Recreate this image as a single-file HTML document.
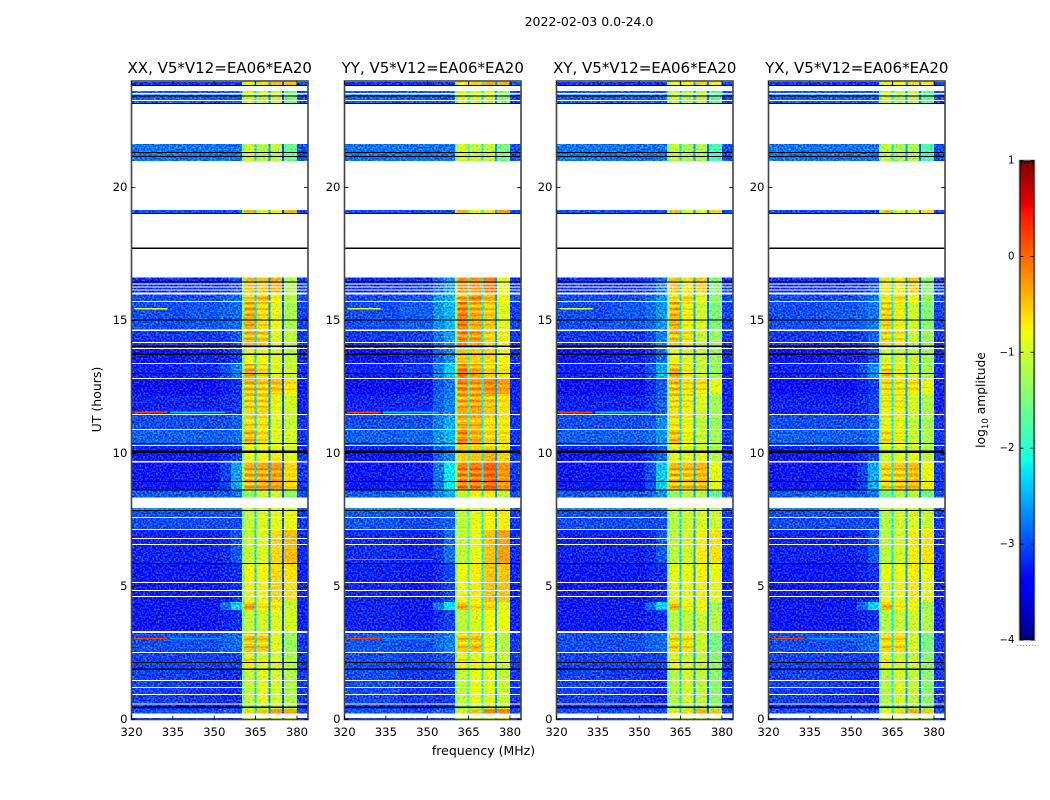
<!DOCTYPE html>
<html lang="en">
<head>
<meta charset="utf-8">
<title>2022-02-03 amplitude waterfall</title>
<style>
html,body{margin:0;padding:0;background:#fff;}
svg{display:block;}
text{font-family:"DejaVu Sans","Liberation Sans",sans-serif;fill:#000;}
</style>
</head>
<body>
<svg id="chart" xmlns="http://www.w3.org/2000/svg" width="1050" height="800" viewBox="0 0 1050 800">
  <defs>
    <filter id="speckle" filterUnits="userSpaceOnUse" x="0" y="0" width="1050" height="800" color-interpolation-filters="sRGB">
      <feTurbulence type="fractalNoise" baseFrequency="0.55" numOctaves="1" seed="7" result="n"/>
      <feColorMatrix in="n" type="matrix" values="1 0 0 0 0  1 0 0 0 0  1 0 0 0 0  0 0 0 0 1" result="g"/>
      <feComposite in="SourceGraphic" in2="g" operator="arithmetic" k1="0" k2="1" k3="1.1" k4="-0.55" result="m"/>
      <feComposite in="m" in2="SourceAlpha" operator="in"/>
    </filter>
    <filter id="speckle-soft" filterUnits="userSpaceOnUse" x="0" y="0" width="1050" height="800" color-interpolation-filters="sRGB">
      <feTurbulence type="fractalNoise" baseFrequency="0.55" numOctaves="1" seed="11" result="n"/>
      <feColorMatrix in="n" type="matrix" values="1 0 0 0 0  1 0 0 0 0  1 0 0 0 0  0 0 0 0 1" result="g"/>
      <feComposite in="SourceGraphic" in2="g" operator="arithmetic" k1="0" k2="1" k3="0.5" k4="-0.25" result="m"/>
      <feComposite in="m" in2="SourceAlpha" operator="in"/>
    </filter>
  </defs>
  <text x="589" y="26" font-size="12.5" text-anchor="middle">2022-02-03 0.0-24.0</text>
  <text x="483.5" y="755" font-size="12.5" text-anchor="middle">frequency (MHz)</text>
  <text x="0" y="0" font-size="12.5" text-anchor="middle" transform="translate(101,399.5) rotate(-90)">UT (hours)</text>
  <text x="0" y="0" font-size="12.3" text-anchor="middle" transform="translate(985,400) rotate(-90)">log<tspan font-size="8.6" dy="3">10</tspan><tspan dy="-3"> amplitude</tspan></text>
</svg>
<script>
// ---------- chart data ----------
const polarizations = ["XX", "YY", "XY", "YX"];
const baselineLabel = "V5*V12=EA06*EA20";
const xTicks = [320, 335, 350, 365, 380];
const yTicks = [0, 5, 10, 15, 20];
const colorTicks = [1, 0, -1, -2, -3, -4];

// frequency column edges (MHz)
const columnStartMHz = [320, 340, 352, 356, 360, 361, 365.35, 370.35, 375.35, 380];
const columnEndMHz = [340, 352, 356, 360, 361, 364.65, 369.65, 374.65, 380, 384];
const slitStartMHz = [364.65, 369.65, 374.65];
const slitEndMHz = [365.35, 370.35, 375.35];

// time rows (UT hours)
const rowStartUT = [0, 0.23, 0.4, 0.62, 1.9, 2.5, 3.29, 4.12, 4.42, 5.88, 7.12, 7.88, 8.35, 8.63, 9.68, 10.02, 10.32, 10.88, 11.49, 12.2, 12.84, 13.36, 13.93, 14.65, 15.7, 15.98, 19.02, 21.0, 23.16, 23.83];
const rowEndUT = [0.06, 0.4, 0.62, 1.9, 2.5, 3.29, 4.12, 4.42, 5.88, 7.12, 7.88, 7.95, 8.63, 9.68, 10.02, 10.32, 10.88, 11.49, 12.2, 12.84, 13.36, 13.93, 14.65, 15.7, 15.98, 16.62, 19.15, 21.64, 23.63, 23.97];

// log10 amplitude of each row (XX) in each frequency column
const rowLevels = [
  [-3.1, -3.1, -3.1, -3.1, -1.5, -0.9, -0.9, -0.9, -1.0, -3.1],
  [-3.0, -3.0, -3.0, -3.0, -1.4, -0.6, -0.5, -0.25, -0.3, -3.0],
  [-3.15, -3.15, -3.15, -3.15, -1.6, -1.25, -1.15, -1.05, -1.2, -3.1],
  [-3.05, -3.1, -3.15, -3.15, -1.6, -1.03, -0.88, -0.98, -1.2, -3.1],
  [-3.05, -3.05, -3.05, -3.05, -1.5, -0.7, -0.88, -0.93, -1.2, -3.1],
  [-3.0, -3.0, -2.9, -2.85, -1.4, -0.5, -0.55, -0.88, -1.3, -3.1],
  [-3.25, -3.25, -3.2, -3.15, -1.6, -1.03, -0.98, -0.9, -0.95, -3.2],
  [-3.25, -3.25, -2.85, -2.35, -1.4, -0.35, -0.7, -0.7, -1.1, -3.2],
  [-3.25, -3.25, -3.2, -3.15, -1.5, -0.75, -0.75, -0.6, -0.65, -3.2],
  [-3.2, -3.2, -3.15, -2.95, -1.5, -1.0, -0.9, -0.6, -0.45, -3.15],
  [-3.0, -3.0, -3.0, -3.0, -1.6, -1.03, -0.93, -0.85, -0.85, -3.1],
  [-2.7, -2.7, -2.7, -2.7, -1.3, -0.85, -0.9, -0.9, -0.9, -2.9],
  [-2.95, -2.95, -2.95, -2.85, -1.7, -1.3, -1.0, -1.0, -1.4, -3.0],
  [-3.25, -3.25, -3.05, -2.6, -1.4, -0.4, -0.35, -0.3, -0.6, -3.1],
  [-3.25, -3.25, -3.15, -3.05, -1.5, -0.8, -0.75, -0.7, -0.9, -3.1],
  [-3.2, -3.2, -3.15, -3.15, -1.6, -0.8, -0.8, -0.85, -1.0, -3.15],
  [-2.9, -2.9, -2.9, -2.85, -1.5, -0.45, -0.65, -0.9, -1.0, -3.1],
  [-3.0, -3.0, -3.0, -2.9, -1.5, -0.65, -0.7, -0.95, -1.05, -3.1],
  [-3.2, -3.2, -3.15, -3.1, -1.5, -0.6, -0.6, -0.8, -1.0, -3.2],
  [-3.3, -3.3, -3.2, -3.15, -1.5, -0.45, -0.55, -0.5, -0.65, -3.2],
  [-3.2, -3.15, -3.0, -2.75, -1.5, -0.4, -0.65, -0.9, -1.05, -3.15],
  [-3.25, -3.2, -3.15, -3.05, -1.6, -0.75, -0.8, -0.9, -1.1, -3.15],
  [-3.1, -3.1, -3.05, -2.95, -1.5, -0.45, -0.55, -0.9, -1.1, -3.1],
  [-3.0, -2.95, -2.9, -2.85, -1.5, -0.4, -0.65, -0.85, -1.25, -3.05],
  [-3.0, -3.0, -2.9, -2.85, -1.5, -0.65, -0.5, -0.75, -1.15, -3.0],
  [-3.15, -3.15, -3.1, -3.0, -1.4, -0.45, -0.5, -0.4, -1.2, -3.1],
  [-3.0, -3.0, -3.0, -3.0, -1.3, -0.4, -0.8, -0.75, -0.4, -3.05],
  [-2.8, -2.8, -2.8, -2.8, -1.5, -1.0, -1.15, -1.1, -1.6, -3.0],
  [-2.9, -2.9, -2.9, -2.9, -1.5, -0.95, -1.1, -1.0, -1.5, -3.0],
  [-3.1, -3.1, -3.1, -3.1, -1.4, -0.8, -0.65, -0.45, -0.5, -3.0]
];

// per-polarization level shift in each column, per time era
const offsetBefore8h = [
  [0, 0, 0, 0, 0, 0, 0, 0, 0, 0],
  [0.05, 0, 0.05, 0.1, 0.1, -0.05, 0.05, 0.1, 0.15, 0],
  [0, 0, 0, 0, 0, -0.1, -0.1, -0.12, -0.2, 0],
  [0, 0, 0, 0, 0, -0.1, -0.08, -0.1, -0.2, 0]
];
const offset8hTo17h = [
  [0, 0, 0, 0, 0, 0, 0, 0, 0, 0],
  [0, 0.03, 0.25, 0.35, 0.2, 0.25, 0.25, 0.3, 0.35, 0],
  [0, 0, 0.05, 0.2, 0.1, -0.05, -0.15, -0.15, -0.25, 0],
  [0, 0, 0, 0.05, 0, -0.2, -0.18, -0.15, -0.2, 0]
];
const offsetAfter17h = [
  [0, 0, 0, 0, 0, 0, 0, 0, 0, 0],
  [0, 0, 0, 0, 0, 0.05, 0.08, 0.05, 0.1, 0],
  [0, 0, 0, 0, 0, -0.05, -0.1, -0.1, -0.2, 0],
  [0, 0, 0, 0, 0, -0.05, -0.1, -0.1, -0.2, 0]
];
// level of the narrow subband-edge slits (365, 370, 375 MHz) per polarization
const slitLevels = [
  [-2.3, -2.6, -2.95],
  [-1.95, -2.2, -2.6],
  [-2.3, -2.55, -2.85],
  [-2.2, -2.55, -2.8]
];

// fine horizontal stripes across the hot band 360-380 MHz
const stripeUT = [2.2, 2.35, 2.69, 2.84, 2.99, 3.14, 4.19, 4.34, 8.7, 8.82, 8.93, 9.04, 9.15, 9.27, 9.38, 10.47, 10.62, 10.73, 11.03, 11.18, 11.33, 11.71, 11.82, 11.94, 12.05, 12.16, 12.27, 12.39, 12.5, 12.61, 12.91, 13.1, 13.21, 13.33, 14.27, 14.38, 14.49, 14.79, 15.17, 15.29, 15.4, 15.51, 15.62, 15.81, 15.92];
const stripeDelta = [0.25, -0.25, 0.25, -0.25, 0.25, -0.25, 0.2, -0.2, 0.3, -0.3, 0.3, -0.3, 0.3, -0.3, 0.3, 0.25, -0.25, 0.25, 0.25, -0.25, 0.25, 0.25, -0.25, 0.3, -0.3, 0.3, -0.3, 0.3, -0.3, 0.3, 0.25, 0.25, -0.25, 0.25, 0.25, -0.25, 0.25, 0.25, 0.25, -0.25, 0.3, -0.3, 0.3, 0.25, -0.25];
const stripeColumnWeight = [1, 0.8, 0.55, 0.35];

// narrow interference lines
const rfiUT = [3.03, 3.03, 11.53, 11.53, 15.42, 6.0, 0.3];
const rfiStartMHz = [321, 334, 321, 334, 321, 321, 353.5];
const rfiEndMHz = [333, 352, 333, 354, 333, 352, 354.5];
const rfiLevel = [0.2, -2.6, 0.2, -2.4, -1.0, 0.0, -1.0];
const rfiPolarizations = [[0, 1, 3], [0, 1, 3], [0, 1, 2], [0, 1, 2], [0, 1, 2], [1], [0, 1, 2, 3]];

// flagged rows
const whiteStartUT = [0.056, 0.564, 0.92, 1.18, 1.45, 2.5, 3.26, 4.6, 4.83, 5.13, 6.56, 6.79, 7.12, 7.58, 9.66, 10.28, 10.88, 11.45, 12.8, 13.36, 13.93, 14.15, 14.61, 15.7, 15.98, 16.13, 16.23, 16.35, 23.25, 23.49];
const whiteEndUT = [0.233, 0.609, 0.96, 1.22, 1.49, 2.54, 3.33, 4.64, 4.87, 5.17, 6.6, 6.83, 7.16, 7.62, 9.72, 10.32, 10.92, 11.49, 12.84, 13.4, 13.97, 14.19, 14.65, 15.73, 16.05, 16.17, 16.27, 16.38, 23.29, 23.54];
const blackUT = [0.46, 1.89, 2.15, 5.87, 7.86, 8.62, 8.94, 10.06, 10.38, 13.0, 13.73, 14.03, 15.01, 16.45, 17.72, 19.02, 21.17, 21.32, 23.16, 23.44, 23.83];
const blackThickUT = [0.04, 0.04, 0.04, 0.04, 0.04, 0.04, 0.04, 0.09, 0.04, 0.04, 0.04, 0.04, 0.04, 0.04, 0.06, 0.04, 0.04, 0.04, 0.04, 0.04, 0.04];

// ---------- axis functions ----------
const panelLeft = [131.5, 344.5, 556.5, 768.5];
const panelWidth = 176.5;
const plotTop = 81;
const plotBottom = 719.5;
const xDomain = [320, 384];
const yDomain = [0, 24];
const cbarDomain = [-4, 1];
const cbarLeft = 1019.5, cbarRight = 1034.5, cbarTop = 160.5, cbarBottom = 640;

function xScale(p, f) { return panelLeft[p] + (f - xDomain[0]) / (xDomain[1] - xDomain[0]) * panelWidth; }
function yScale(t) { return plotBottom - (t - yDomain[0]) / (yDomain[1] - yDomain[0]) * (plotBottom - plotTop); }
function cbarScale(v) { return cbarBottom - (v - cbarDomain[0]) / (cbarDomain[1] - cbarDomain[0]) * (cbarBottom - cbarTop); }

function ramp(t, pts) {
  for (let i = 1; i < pts.length; i++) {
    if (t <= pts[i][0]) {
      const a = pts[i - 1], b = pts[i];
      return a[1] + (b[1] - a[1]) * (t - a[0]) / (b[0] - a[0]);
    }
  }
  return pts[pts.length - 1][1];
}
function jet(v) {
  const t = Math.max(0, Math.min(1, (v - cbarDomain[0]) / (cbarDomain[1] - cbarDomain[0])));
  const r = ramp(t, [[0, 0], [0.35, 0], [0.66, 1], [0.89, 1], [1, 0.5]]);
  const g = ramp(t, [[0, 0], [0.125, 0], [0.375, 1], [0.64, 1], [0.91, 0], [1, 0]]);
  const b = ramp(t, [[0, 0.5], [0.11, 1], [0.34, 1], [0.65, 0], [1, 0]]);
  return "rgb(" + Math.round(r * 255) + "," + Math.round(g * 255) + "," + Math.round(b * 255) + ")";
}

const NS = "http://www.w3.org/2000/svg";
const chart = document.getElementById("chart");
function svgEl(tag, attrs, parent) {
  const el = document.createElementNS(NS, tag);
  for (const k in attrs) el.setAttribute(k, attrs[k]);
  (parent || chart).appendChild(el);
  return el;
}
function offsetFor(p, c, t) {
  const table = t < 8 ? offsetBefore8h : (t < 17 ? offset8hTo17h : offsetAfter17h);
  return table[p][c];
}

// ---------- panels ----------
polarizations.forEach(function (pol, p) {
  const panel = svgEl("g", {});
  
  

  // quiet-band cells carry a strong speckle texture; the bright 360-380 MHz band a soft one
  const coldCells = svgEl("g", { filter: "url(#speckle)", "shape-rendering": "crispEdges" }, panel);
  
  
  const hotCells = svgEl("g", { filter: "url(#speckle-soft)", "shape-rendering": "crispEdges" }, panel);
  
  

  rowLevels.forEach(function (levels, r) {
    const yTop = yScale(rowEndUT[r]);
    const h = yScale(rowStartUT[r]) - yTop;
    levels.forEach(function (lv, c) {
      const x0 = xScale(p, columnStartMHz[c]);
      const cell = svgEl("rect", {
        x: x0, y: yTop,
        width: xScale(p, columnEndMHz[c]) - x0, height: h,
        fill: jet(lv + offsetFor(p, c, rowStartUT[r]))
      }, (c < 4 || c === 9) ? coldCells : hotCells);
      
      
    });
    slitStartMHz.forEach(function (s, k) {
      const x0 = xScale(p, s);
      const slit = svgEl("rect", {
        x: x0, y: yTop,
        width: xScale(p, slitEndMHz[k]) - x0, height: h,
        fill: jet(slitLevels[p][k])
      }, hotCells);
      
      
    });
  });

  // hot-band stripes
  stripeUT.forEach(function (t, i) {
    const r = rowStartUT.findIndex(function (s, j) { return t >= s && t < rowEndUT[j]; });
    if (r < 0) return;
    for (let c = 5; c <= 8; c++) {
      const x0 = xScale(p, columnStartMHz[c]);
      const stripe = svgEl("rect", {
        x: x0, y: yScale(t + 0.07),
        width: xScale(p, columnEndMHz[c]) - x0, height: yScale(t) - yScale(t + 0.07),
        fill: jet(rowLevels[r][c] + offsetFor(p, c, t) + stripeDelta[i] * stripeColumnWeight[c - 5])
      }, hotCells);
      
      
    }
  });

  // interference lines
  rfiUT.forEach(function (t, i) {
    if (rfiPolarizations[i].indexOf(p) < 0) return;
    const x0 = xScale(p, rfiStartMHz[i]);
    const rfi = svgEl("rect", {
      x: x0, y: yScale(t + 0.04),
      width: xScale(p, rfiEndMHz[i]) - x0, height: yScale(t) - yScale(t + 0.04),
      fill: jet(rfiLevel[i]), "shape-rendering": "crispEdges"
    }, panel);
    
    
  });

  // flagged rows
  whiteStartUT.forEach(function (s, i) {
    const gap = svgEl("rect", {
      x: panelLeft[p], y: yScale(whiteEndUT[i]),
      width: panelWidth, height: yScale(s) - yScale(whiteEndUT[i]),
      fill: "#fff", "shape-rendering": "crispEdges"
    }, panel);
    
    
  });
  blackUT.forEach(function (t, i) {
    const line = svgEl("rect", {
      x: panelLeft[p], y: yScale(t + blackThickUT[i] / 2),
      width: panelWidth, height: yScale(t - blackThickUT[i] / 2) - yScale(t + blackThickUT[i] / 2),
      fill: "#000", "shape-rendering": "crispEdges"
    }, panel);
    
    
  });

  // frame
  const frame = svgEl("rect", {
    x: panelLeft[p], y: plotTop, width: panelWidth, height: plotBottom - plotTop,
    fill: "none", stroke: "#444", "stroke-width": 1.6
  }, panel);
  
  

  // title
  const title = svgEl("text", {
    x: panelLeft[p] + panelWidth / 2, y: 73, "font-size": 15, "text-anchor": "middle"
  }, panel);
  title.textContent = pol + ", " + baselineLabel;
  
  

  // x ticks
  xTicks.forEach(function (f) {
    const x = xScale(p, f);
    [[plotBottom, plotBottom - 4], [plotTop, plotTop + 4]].forEach(function (e) {
      const tick = svgEl("line", { x1: x, x2: x, y1: e[0], y2: e[1], stroke: "#000", "stroke-width": 0.8 }, panel);
      
      
    });
    const label = svgEl("text", { x: x, y: 736, "font-size": 11.7, "text-anchor": "middle" }, panel);
    label.textContent = f;
    
    
  });

  // y ticks
  yTicks.forEach(function (t) {
    const y = yScale(t);
    [[panelLeft[p], panelLeft[p] + 4], [panelLeft[p] + panelWidth, panelLeft[p] + panelWidth - 4]].forEach(function (e) {
      const tick = svgEl("line", { x1: e[0], x2: e[1], y1: y, y2: y, stroke: "#000", "stroke-width": 0.8 }, panel);
      
      
    });
    const label = svgEl("text", { x: panelLeft[p] - 4, y: y + 3.4, "font-size": 11.7, "text-anchor": "end" }, panel);
    label.textContent = t;
    
    
  });
});

// ---------- colorbar ----------
const cbar = svgEl("g", {});


for (let py = Math.floor(cbarTop); py < cbarBottom; py++) {
  const v = cbarDomain[0] + (cbarBottom - py - 0.5) / (cbarBottom - cbarTop) * (cbarDomain[1] - cbarDomain[0]);
  const step = svgEl("rect", {
    x: cbarLeft, y: py, width: cbarRight - cbarLeft, height: 1,
    fill: jet(v), "shape-rendering": "crispEdges"
  }, cbar);
  
  
}
const cbarHalo = svgEl("rect", {
  x: cbarLeft - 0.5, y: cbarTop - 0.5, width: cbarRight - cbarLeft + 1, height: cbarBottom - cbarTop + 1,
  fill: "none", stroke: "#b5b5b5", "stroke-width": 1
}, cbar);


const cbarFrame = svgEl("rect", {
  x: cbarLeft + 0.5, y: cbarTop + 0.5, width: cbarRight - cbarLeft - 1, height: cbarBottom - cbarTop - 1,
  fill: "none", stroke: "#000", "stroke-width": 1
}, cbar);


colorTicks.forEach(function (v) {
  const y = cbarScale(v);
  [[cbarLeft, cbarLeft + 4], [cbarRight, cbarRight - 4]].forEach(function (e) {
    const tick = svgEl("line", { x1: e[0], x2: e[1], y1: y, y2: y, stroke: "#000", "stroke-width": 0.8 }, cbar);
    
    
  });
  const label = svgEl("text", { x: cbarLeft - 5, y: y + 3, "font-size": 10.2, "text-anchor": "end" }, cbar);
  label.textContent = v < 0 ? "\u2212" + (-v) : String(v);
  
  
});
// small end-cap tick marks and the dotted row beneath the colorbar
for (let k = 0; k < 5; k++) {
  const x = cbarLeft + 2 + k * 2.8;
  [[cbarTop, cbarTop + 4], [cbarBottom, cbarBottom - 4]].forEach(function (e) {
    const minor = svgEl("line", { x1: x, x2: x, y1: e[0], y2: e[1], stroke: "#000", "stroke-width": 0.7 }, cbar);
    
    
  });
}
for (let k = 0; k < 7; k++) {
  const dot = svgEl("rect", { x: 1017 + k * 3, y: 645, width: 1, height: 1, fill: "#999" }, cbar);
  
  
}
</script>
</body>
</html>
